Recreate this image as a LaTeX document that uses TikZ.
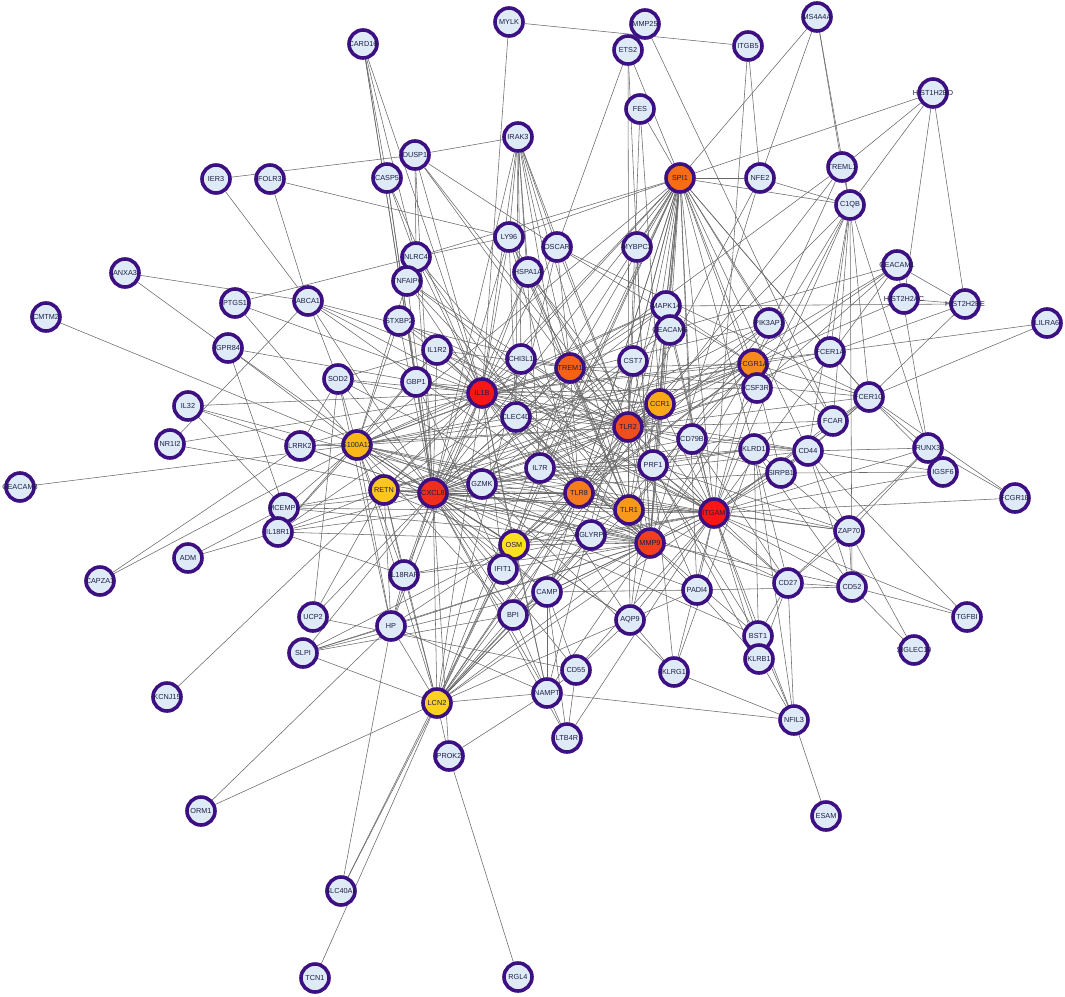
\documentclass[tikz,border=0pt]{standalone}
\usepackage{fontspec}
\setmainfont{Liberation Sans}
\usepackage{xcolor}
\definecolor{ringc}{RGB}{60,16,130}
\definecolor{genefill}{RGB}{222,234,246}
\definecolor{labelc}{RGB}{30,30,70}
\definecolor{linkc}{RGB}{104,104,104}
\definecolor{hubA}{RGB}{248,22,22}
\definecolor{hubB}{RGB}{241,45,30}
\definecolor{hubC}{RGB}{242,62,30}
\definecolor{hubD}{RGB}{240,78,26}
\definecolor{hubE}{RGB}{245,98,22}
\definecolor{hubF}{RGB}{248,108,20}
\definecolor{hubG}{RGB}{246,122,30}
\definecolor{hubH}{RGB}{247,138,30}
\definecolor{hubI}{RGB}{249,152,25}
\definecolor{hubJ}{RGB}{250,170,25}
\definecolor{hubK}{RGB}{251,182,25}
\definecolor{hubL}{RGB}{252,198,30}
\definecolor{hubM}{RGB}{252,210,30}
\definecolor{hubN}{RGB}{252,226,30}
\pgfdeclarelayer{back}
\pgfsetlayers{back,main}
\newcommand{\gn}[1]{\makebox[0pt]{#1}}

\begin{document}
\begin{tikzpicture}[x=1pt,y=-1pt,
  gene/.style = {circle, draw=ringc, line width=3.6pt, fill=genefill, minimum size=28pt,
    inner sep=0pt, font=\fontsize{7.3}{8}\selectfont, text=labelc},
  link/.style = {draw=linkc, line width=0.55pt}]
\useasboundingbox (0,0) rectangle (1065,996);
% top row
\node[gene] (MYLK) at (509,22) {\gn{MYLK}};
\node[gene] (MMP25) at (645,24) {\gn{MMP25}};
\node[gene] (MS4A4A) at (817,17) {\gn{MS4A4A}};
\node[gene] (CARD16) at (363,44) {\gn{CARD16}};
\node[gene] (ETS2) at (628,50) {\gn{ETS2}};
\node[gene] (ITGB5) at (748,46) {\gn{ITGB5}};
\node[gene] (HIST1H2BD) at (933,93) {\gn{HIST1H2BD}};
\node[gene] (FES) at (640,109) {\gn{FES}};
\node[gene] (IRAK3) at (518,137) {\gn{IRAK3}};
\node[gene] (DUSP1) at (415,155) {\gn{DUSP1}};
\node[gene] (CASP5) at (387,178) {\gn{CASP5}};
\node[gene] (IER3) at (216,179) {\gn{IER3}};
\node[gene] (FOLR3) at (270,179) {\gn{FOLR3}};
\node[gene, fill=hubF] (SPI1) at (680,178) {\gn{SPI1}};
\node[gene] (NFE2) at (760,178) {\gn{NFE2}};
\node[gene] (TREML1) at (842,167) {\gn{TREML1}};
\node[gene] (C1QB) at (850,205) {\gn{C1QB}};
\node[gene] (LY96) at (509,237) {\gn{LY96}};
\node[gene] (OSCAR) at (557,247) {\gn{OSCAR}};
\node[gene] (MYBPC3) at (637,247) {\gn{MYBPC3}};
\node[gene] (NLRC4) at (416,257) {\gn{NLRC4}};
\node[gene] (CEACAM1) at (897,265) {\gn{CEACAM1}};
% upper middle
\node[gene] (ANXA3) at (125,273) {\gn{ANXA3}};
\node[gene] (TNFAIP6) at (407,281) {\gn{TNFAIP6}};
\node[gene] (HSPA1A) at (528,272) {\gn{HSPA1A}};
\node[gene] (MAPK14) at (666,306) {\gn{MAPK14}};
\node[gene] (HIST2H2AC) at (904,299) {\gn{HIST2H2AC}};
\node[gene] (HIST2H2BE) at (965,304) {\gn{HIST2H2BE}};
\node[gene] (LILRA6) at (1047,323) {\gn{LILRA6}};
\node[gene] (CMTM2) at (46,317) {\gn{CMTM2}};
\node[gene] (PTGS1) at (235,303) {\gn{PTGS1}};
\node[gene] (ABCA1) at (308,301) {\gn{ABCA1}};
\node[gene] (STXBP2) at (399,321) {\gn{STXBP2}};
\node[gene] (CEACAM6) at (670,330) {\gn{CEACAM6}};
\node[gene] (PIK3AP1) at (769,323) {\gn{PIK3AP1}};
\node[gene] (GPR84) at (228,348) {\gn{GPR84}};
\node[gene] (IL1R2) at (437,350) {\gn{IL1R2}};
\node[gene] (CHI3L1) at (521,359) {\gn{CHI3L1}};
\node[gene, fill=hubE] (TREM1) at (570,368) {\gn{TREM1}};
\node[gene] (CST7) at (633,361) {\gn{CST7}};
\node[gene, fill=hubH] (FCGR1A) at (753,364) {\gn{FCGR1A}};
\node[gene] (FCER1A) at (830,352) {\gn{FCER1A}};
\node[gene] (SOD2) at (338,379) {\gn{SOD2}};
\node[gene] (GBP1) at (416,382) {\gn{GBP1}};
\node[gene, fill=hubA] (IL1B) at (482,393) {\gn{IL1B}};
\node[gene] (CSF3R) at (757,388) {\gn{CSF3R}};
\node[gene] (FCER1G) at (869,397) {\gn{FCER1G}};
\node[gene] (IL32) at (188,406) {\gn{IL32}};
\node[gene] (CLEC4D) at (516,417) {\gn{CLEC4D}};
\node[gene, fill=hubJ] (CCR1) at (660,404) {\gn{CCR1}};
\node[gene] (FCAR) at (833,421) {\gn{FCAR}};
% middle
\node[gene] (NR1I2) at (170,444) {\gn{NR1I2}};
\node[gene, fill=hubD] (TLR2) at (628,427) {\gn{TLR2}};
\node[gene] (CD79B) at (692,439) {\gn{CD79B}};
\node[gene] (LRRK2) at (300,446) {\gn{LRRK2}};
\node[gene, fill=hubK] (S100A12) at (357,445) {\gn{S100A12}};
\node[gene] (KLRD1) at (754,449) {\gn{KLRD1}};
\node[gene] (CD44) at (808,451) {\gn{CD44}};
\node[gene] (RUNX3) at (928,448) {\gn{RUNX3}};
\node[gene] (IL7R) at (540,468) {\gn{IL7R}};
\node[gene] (PRF1) at (653,465) {\gn{PRF1}};
\node[gene] (SIRPB1) at (781,473) {\gn{SIRPB1}};
\node[gene] (IGSF6) at (943,472) {\gn{IGSF6}};
\node[gene] (CEACAM8) at (20,487) {\gn{CEACAM8}};
\node[gene, fill=hubL] (RETN) at (384,490) {\gn{RETN}};
\node[gene, fill=hubB] (CXCL8) at (433,493) {\gn{CXCL8}};
\node[gene] (GZMK) at (482,484) {\gn{GZMK}};
\node[gene, fill=hubG] (TLR8) at (579,493) {\gn{TLR8}};
\node[gene, fill=hubI] (TLR1) at (629,510) {\gn{TLR1}};
\node[gene, fill=hubA] (ITGAM) at (714,513) {\gn{ITGAM}};
\node[gene] (FCGR1B) at (1015,498) {\gn{FCGR1B}};
\node[gene] (MCEMP1) at (284,508) {\gn{MCEMP1}};
\node[gene] (IL18R1) at (278,532) {\gn{IL18R1}};
\node[gene] (PGLYRP1) at (591,535) {\gn{PGLYRP1}};
\node[gene, fill=hubN] (OSM) at (514,545) {\gn{OSM}};
\node[gene, fill=hubC] (MMP9) at (650,543) {\gn{MMP9}};
\node[gene] (ZAP70) at (849,531) {\gn{ZAP70}};
% lower middle
\node[gene] (ADM) at (188,558) {\gn{ADM}};
\node[gene] (CAPZA1) at (100,581) {\gn{CAPZA1}};
\node[gene] (IFIT1) at (503,569) {\gn{IFIT1}};
\node[gene] (IL18RAP) at (404,575) {\gn{IL18RAP}};
\node[gene] (CAMP) at (547,592) {\gn{CAMP}};
\node[gene] (PADI4) at (697,590) {\gn{PADI4}};
\node[gene] (CD27) at (788,583) {\gn{CD27}};
\node[gene] (CD52) at (852,587) {\gn{CD52}};
\node[gene] (TGFBI) at (967,617) {\gn{TGFBI}};
\node[gene] (UCP2) at (313,617) {\gn{UCP2}};
\node[gene] (HP) at (391,626) {\gn{HP}};
\node[gene] (BPI) at (513,615) {\gn{BPI}};
\node[gene] (AQP9) at (630,620) {\gn{AQP9}};
\node[gene] (SLPI) at (303,653) {\gn{SLPI}};
\node[gene] (BST1) at (758,636) {\gn{BST1}};
\node[gene] (KLRB1) at (759,659) {\gn{KLRB1}};
\node[gene] (SIGLEC10) at (914,650) {\gn{SIGLEC10}};
\node[gene] (KCNJ15) at (167,697) {\gn{KCNJ15}};
\node[gene] (CD55) at (576,670) {\gn{CD55}};
\node[gene] (NAMPT) at (547,693) {\gn{NAMPT}};
\node[gene] (KLRG1) at (674,672) {\gn{KLRG1}};
\node[gene, fill=hubM] (LCN2) at (437,703) {\gn{LCN2}};
\node[gene] (NFIL3) at (794,720) {\gn{NFIL3}};
\node[gene] (LTB4R) at (567,738) {\gn{LTB4R}};
\node[gene] (PROK2) at (449,756) {\gn{PROK2}};
% bottom
\node[gene] (ORM1) at (201,811) {\gn{ORM1}};
\node[gene] (ESAM) at (826,816) {\gn{ESAM}};
\node[gene] (SLC40A1) at (341,891) {\gn{SLC40A1}};
\node[gene] (TCN1) at (315,978) {\gn{TCN1}};
\node[gene] (RGL4) at (518,977) {\gn{RGL4}};

\begin{pgfonlayer}{back}
% hubs with each other
\draw[link] (IL1B) edge (CXCL8) edge (ITGAM) edge (MMP9) edge (TLR2) edge (TREM1) edge (TLR8) edge (SPI1) edge (FCGR1A) edge (CCR1) edge (TLR1) edge (S100A12) edge (RETN) edge (OSM) edge (LCN2);
\draw[link] (CXCL8) edge (ITGAM) edge (MMP9) edge (TLR2) edge (TREM1) edge (TLR8) edge (SPI1) edge (FCGR1A) edge (CCR1) edge (TLR1) edge (S100A12) edge (RETN) edge (OSM) edge (LCN2);
\draw[link] (ITGAM) edge (MMP9) edge (TLR2) edge (TREM1) edge (TLR8) edge (SPI1) edge (FCGR1A) edge (CCR1) edge (TLR1) edge (S100A12) edge (RETN) edge (OSM) edge (LCN2);
\draw[link] (MMP9) edge (TLR2) edge (TREM1) edge (TLR8) edge (SPI1) edge (FCGR1A) edge (CCR1) edge (TLR1) edge (S100A12) edge (RETN) edge (OSM) edge (LCN2);
\draw[link] (TLR2) edge (TREM1) edge (TLR8) edge (SPI1) edge (FCGR1A) edge (CCR1) edge (TLR1) edge (S100A12) edge (RETN) edge (OSM) edge (LCN2);
\draw[link] (TREM1) edge (TLR8) edge (SPI1) edge (FCGR1A) edge (CCR1) edge (TLR1) edge (S100A12) edge (RETN) edge (OSM) edge (LCN2);
\draw[link] (TLR8) edge (SPI1) edge (FCGR1A) edge (CCR1) edge (TLR1) edge (S100A12) edge (RETN) edge (OSM) edge (LCN2);
\draw[link] (SPI1) edge (FCGR1A) edge (CCR1) edge (TLR1) edge (S100A12) edge (RETN) edge (OSM) edge (LCN2);
\draw[link] (FCGR1A) edge (CCR1) edge (TLR1) edge (S100A12) edge (RETN) edge (OSM) edge (LCN2);
\draw[link] (CCR1) edge (TLR1) edge (S100A12) edge (RETN) edge (OSM) edge (LCN2);
\draw[link] (TLR1) edge (S100A12) edge (RETN) edge (OSM) edge (LCN2);
\draw[link] (S100A12) edge (RETN) edge (OSM) edge (LCN2);
\draw[link] (RETN) edge (OSM) edge (LCN2);
\draw[link] (OSM) edge (LCN2);
% the other genes
\draw[link] (IER3) edge (DUSP1) edge (ABCA1);
\draw[link] (FOLR3) edge (LY96) edge (ABCA1);
\draw[link] (CARD16) edge (CASP5) edge (NLRC4) edge (IL1B) edge (GBP1) edge (CXCL8);
\draw[link] (MYLK) edge (ITGB5) edge (IL1B);
\draw[link] (MMP25) edge (FCAR);
\draw[link] (ETS2) edge (OSCAR) edge (SPI1) edge (MMP9) edge (TLR1);
\draw[link] (FES) edge (SPI1) edge (TLR2) edge (CCR1);
\draw[link] (IRAK3) edge (DUSP1) edge (LY96) edge (OSCAR) edge (IL1B) edge (CHI3L1) edge (TLR2) edge (TREM1) edge (TLR8) edge (CXCL8) edge (CLEC4D) edge (IL7R) edge (TLR1) edge (HSPA1A);
\draw[link] (DUSP1) edge (OSCAR) edge (IL1B) edge (CXCL8) edge (TREM1) edge (NLRC4) edge (TLR2);
\draw[link] (CASP5) edge (NLRC4) edge (IL1B) edge (CXCL8) edge (GBP1);
\draw[link] (SPI1) edge (NLRC4) edge (LY96) edge (NFE2) edge (C1QB) edge (HIST1H2BD) edge (MAPK14) edge (CEACAM6) edge (CST7) edge (PRF1) edge (CD79B) edge (CD44) edge (FCER1A) edge (KLRD1) edge (PADI4) edge (AQP9) edge (IL7R) edge (FCAR) edge (PIK3AP1) edge (GZMK) edge (CSF3R) edge (FCER1G) edge (MYBPC3) edge (NAMPT) edge (CAMP);
\draw[link] (MS4A4A) edge (NFE2) edge (SPI1) edge (TREML1) edge (C1QB);
\draw[link] (ITGB5) edge (ITGAM) edge (NFE2);
\draw[link] (HIST1H2BD) edge (TREML1) edge (C1QB) edge (HIST2H2AC) edge (HIST2H2BE);
\draw[link] (NFE2) edge (C1QB) edge (MMP9) edge (TLR2);
\draw[link] (TREML1) edge (FCGR1A) edge (C1QB) edge (CCR1) edge (TREM1);
\draw[link] (C1QB) edge (FCGR1A) edge (FCER1G) edge (CSF3R) edge (CD44) edge (FCAR) edge (ITGAM) edge (TLR2) edge (FCER1A) edge (CD52) edge (RUNX3);
\draw[link] (LY96) edge (TLR2) edge (TLR1) edge (IL1B) edge (CXCL8) edge (TREM1) edge (NLRC4) edge (CLEC4D) edge (TLR8);
\draw[link] (OSCAR) edge (TREM1) edge (FCGR1A) edge (IL1B) edge (CLEC4D) edge (FCER1G) edge (TLR2);
\draw[link] (MYBPC3) edge (TLR2) edge (MMP9);
\draw[link] (NLRC4) edge (IL1B) edge (CXCL8) edge (TLR8) edge (TLR1);
\draw[link] (CEACAM1) edge (CEACAM6) edge (HIST2H2BE) edge (ITGAM) edge (CSF3R) edge (FCGR1A) edge (TLR2) edge (RUNX3);
\draw[link] (ANXA3) edge (ABCA1) edge (GPR84);
\draw[link] (TNFAIP6) edge (IL1B) edge (CXCL8) edge (TLR2) edge (MMP9) edge (S100A12) edge (ITGAM);
\draw[link] (HSPA1A) edge (TLR2) edge (IL1B) edge (CXCL8) edge (TLR1) edge (ITGAM);
\draw[link] (MAPK14) edge (HIST2H2BE) edge (IL1B) edge (TLR2) edge (CXCL8) edge (TREM1) edge (MMP9) edge (ITGAM) edge (CCR1) edge (FCGR1A) edge (TLR8) edge (S100A12);
\draw[link] (HIST2H2AC) edge (HIST2H2BE) edge (FCGR1A);
\draw[link] (HIST2H2BE) edge (FCER1G) edge (FCER1A);
\draw[link] (LILRA6) edge (FCER1A) edge (FCER1G);
\draw[link] (CMTM2) edge (S100A12);
\draw[link] (PTGS1) edge (NLRC4) edge (IL1B) edge (S100A12);
\draw[link] (ABCA1) edge (SOD2) edge (NR1I2) edge (IL1B) edge (CXCL8) edge (TLR2) edge (MMP9) edge (TREM1);
\draw[link] (STXBP2) edge (CXCL8) edge (IL1B) edge (TLR2) edge (S100A12) edge (ITGAM);
\draw[link] (CEACAM6) edge (ITGAM) edge (CXCL8) edge (S100A12) edge (MMP9);
\draw[link] (PIK3AP1) edge (TLR2) edge (TLR8) edge (TLR1) edge (IL1B) edge (CXCL8);
\draw[link] (GPR84) edge (IL1B) edge (S100A12) edge (CXCL8) edge (MCEMP1);
\draw[link] (IL1R2) edge (IL1B) edge (CXCL8) edge (MMP9) edge (S100A12) edge (TREM1) edge (ITGAM) edge (IL18R1);
\draw[link] (CHI3L1) edge (MMP9) edge (IL1B) edge (CXCL8) edge (TLR2) edge (LCN2) edge (TREM1);
\draw[link] (CST7) edge (CXCL8) edge (TLR2) edge (PRF1) edge (GZMK);
\draw[link] (FCER1A) edge (FCER1G) edge (FCGR1A) edge (TLR2) edge (IL1B);
\draw[link] (SOD2) edge (IL1B) edge (CXCL8) edge (LRRK2) edge (S100A12) edge (MMP9) edge (TLR2) edge (UCP2) edge (HP) edge (IL1R2);
\draw[link] (GBP1) edge (IL1B) edge (CXCL8) edge (IFIT1) edge (TLR2) edge (CCR1);
\draw[link] (CSF3R) edge (CXCL8) edge (ITGAM) edge (FCGR1A) edge (TLR2) edge (IL1B) edge (MMP9);
\draw[link] (FCER1G) edge (FCGR1A) edge (FCAR) edge (ITGAM) edge (RUNX3) edge (FCGR1B) edge (TREM1) edge (TLR2) edge (SIRPB1) edge (CD44);
\draw[link] (IL32) edge (IL1B) edge (GZMK) edge (MCEMP1) edge (CXCL8);
\draw[link] (CLEC4D) edge (TLR2) edge (CXCL8) edge (TREM1) edge (ITGAM) edge (MMP9) edge (FCGR1A) edge (S100A12);
\draw[link] (FCAR) edge (FCGR1A) edge (ITGAM) edge (CXCL8) edge (TLR2);
\draw[link] (NR1I2) edge (IL1B) edge (CXCL8);
\draw[link] (CD79B) edge (TLR2) edge (IL7R) edge (CD27) edge (ITGAM) edge (CD44);
\draw[link] (LRRK2) edge (S100A12) edge (CAPZA1) edge (TLR2) edge (CXCL8) edge (IL1B);
\draw[link] (KLRD1) edge (PRF1) edge (GZMK) edge (ZAP70) edge (CD27) edge (KLRB1) edge (NFIL3) edge (IL7R) edge (CD44) edge (KLRG1);
\draw[link] (CD44) edge (ITGAM) edge (CXCL8) edge (IL1B) edge (MMP9) edge (TLR2) edge (RUNX3) edge (IGSF6) edge (ZAP70) edge (CD52) edge (TGFBI);
\draw[link] (RUNX3) edge (FCGR1B) edge (ITGAM) edge (CD27) edge (ZAP70) edge (IGSF6);
\draw[link] (IL7R) edge (GZMK) edge (CD27) edge (PRF1) edge (ZAP70) edge (IL1B) edge (CXCL8) edge (TLR2) edge (CCR1);
\draw[link] (PRF1) edge (GZMK) edge (ZAP70) edge (KLRB1) edge (CD27) edge (KLRG1) edge (TLR2);
\draw[link] (SIRPB1) edge (ITGAM) edge (FCGR1A) edge (TLR2) edge (IGSF6) edge (CXCL8);
\draw[link] (IGSF6) edge (FCER1G) edge (ITGAM);
\draw[link] (CEACAM8) edge (S100A12);
\draw[link] (KCNJ15) edge (RETN);
\draw[link] (GZMK) edge (ZAP70) edge (CD27);
\draw[link] (MCEMP1) edge (S100A12) edge (RETN) edge (CXCL8) edge (IL18R1) edge (ITGAM) edge (MMP9);
\draw[link] (IL18R1) edge (CXCL8) edge (RETN) edge (IL18RAP) edge (IL1B) edge (MMP9) edge (S100A12) edge (TLR8);
\draw[link] (PGLYRP1) edge (MMP9) edge (CXCL8) edge (LCN2) edge (S100A12) edge (TLR2) edge (CAMP) edge (ITGAM);
\draw[link] (ZAP70) edge (CD27) edge (CD52) edge (SIGLEC10) edge (ITGAM);
\draw[link] (ADM) edge (IL18R1) edge (MCEMP1);
\draw[link] (CAPZA1) edge (S100A12);
\draw[link] (IFIT1) edge (CXCL8) edge (IL1B) edge (TLR8) edge (OSM) edge (MMP9);
\draw[link] (IL18RAP) edge (CXCL8) edge (S100A12) edge (RETN) edge (MMP9) edge (LCN2) edge (HP) edge (ITGAM) edge (IL1B);
\draw[link] (CAMP) edge (LCN2) edge (MMP9) edge (BPI) edge (CXCL8) edge (PADI4) edge (S100A12) edge (NAMPT) edge (LTB4R) edge (CD55) edge (TLR2) edge (ITGAM);
\draw[link] (PADI4) edge (ITGAM) edge (MMP9) edge (CXCL8) edge (LCN2) edge (KLRB1) edge (TLR2) edge (CD52);
\draw[link] (CD27) edge (CD52) edge (BST1) edge (KLRB1) edge (ITGAM) edge (NFIL3);
\draw[link] (CD52) edge (TGFBI) edge (SIGLEC10) edge (ITGAM) edge (KLRD1) edge (CXCL8);
\draw[link] (TGFBI) edge (ITGAM);
\draw[link] (UCP2) edge (RETN) edge (CXCL8) edge (CD55);
\draw[link] (HP) edge (LCN2) edge (ORM1) edge (SLC40A1) edge (NAMPT) edge (CXCL8) edge (S100A12) edge (MMP9) edge (OSM) edge (RETN) edge (IL1B);
\draw[link] (BPI) edge (LCN2) edge (MMP9) edge (CXCL8) edge (S100A12) edge (TLR8) edge (NAMPT);
\draw[link] (AQP9) edge (ITGAM) edge (MMP9) edge (CXCL8) edge (KLRG1) edge (CD55) edge (TLR2) edge (S100A12) edge (IL1B);
\draw[link] (SLPI) edge (HP) edge (LCN2) edge (CXCL8) edge (OSM) edge (CAMP) edge (MMP9) edge (BPI);
\draw[link] (BST1) edge (ITGAM) edge (NFIL3) edge (TLR2) edge (MMP9) edge (CXCL8);
\draw[link] (KLRB1) edge (NFIL3) edge (ITGAM);
\draw[link] (CD55) edge (LTB4R) edge (ITGAM) edge (CXCL8) edge (NAMPT);
\draw[link] (NAMPT) edge (LCN2) edge (NFIL3) edge (LTB4R) edge (CXCL8) edge (IL1B) edge (OSM) edge (PROK2) edge (MMP9);
\draw[link] (KLRG1) edge (NFIL3) edge (GZMK) edge (ITGAM);
\draw[link] (NFIL3) edge (ESAM) edge (ITGAM);
\draw[link] (LTB4R) edge (CXCL8) edge (ITGAM);
\draw[link] (PROK2) edge (LCN2) edge (RGL4) edge (CXCL8);
\draw[link] (ORM1) edge (LCN2);
\draw[link] (SLC40A1) edge (LCN2) edge (OSM);
\draw[link] (TCN1) edge (LCN2);
\draw[link] (FCGR1B) edge (ITGAM);
\end{pgfonlayer}
\end{tikzpicture}
\end{document}
